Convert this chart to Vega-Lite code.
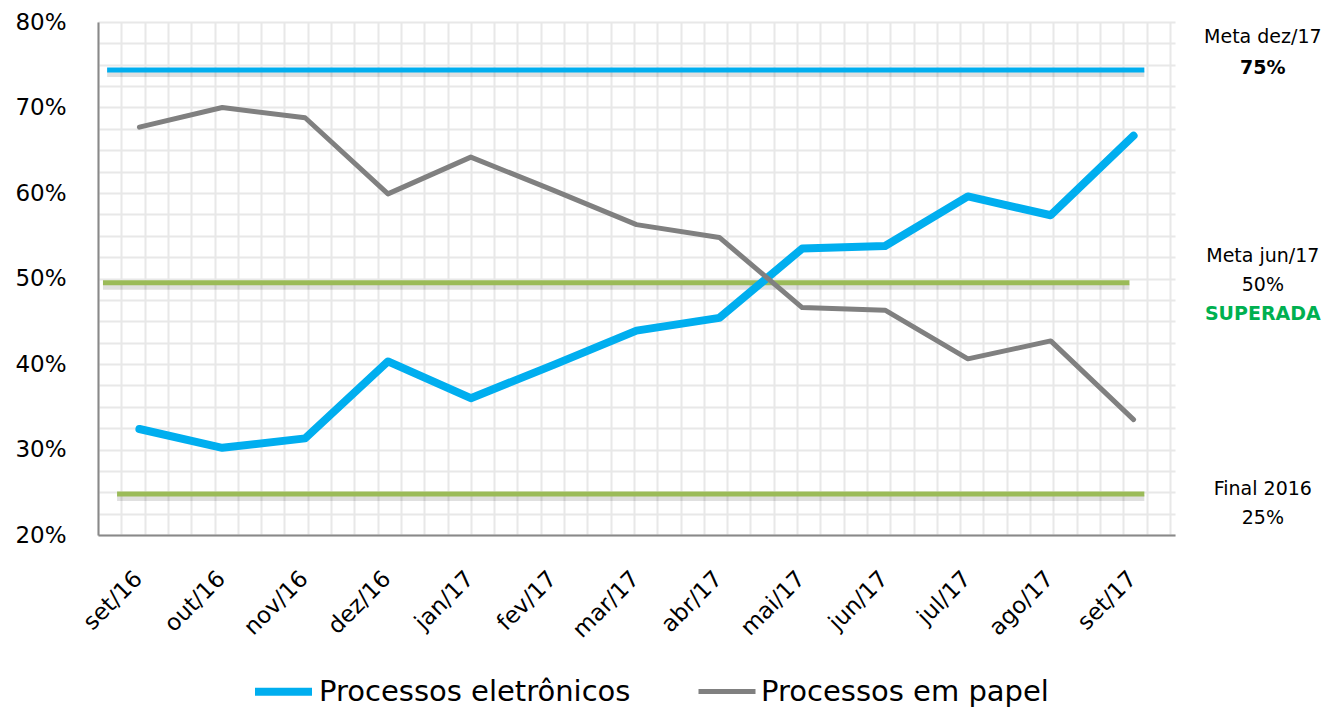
{
  "$schema": "https://vega.github.io/schema/vega-lite/v6.json",
  "width": 1077,
  "height": 513,
  "autosize": {"type": "none"},
  "padding": {"left": 98, "top": 22, "right": 153, "bottom": 173},
  "background": "white",
  "config": {"font": "DejaVu Sans", "view": {"stroke": null}},
  "datasets": {
    "series": [
      {"mes": "set/16", "serie": "Processos eletrônicos", "valor": 32.4},
      {"mes": "out/16", "serie": "Processos eletrônicos", "valor": 30.2},
      {"mes": "nov/16", "serie": "Processos eletrônicos", "valor": 31.3},
      {"mes": "dez/16", "serie": "Processos eletrônicos", "valor": 40.3},
      {"mes": "jan/17", "serie": "Processos eletrônicos", "valor": 36.0},
      {"mes": "fev/17", "serie": "Processos eletrônicos", "valor": 39.9},
      {"mes": "mar/17", "serie": "Processos eletrônicos", "valor": 43.9},
      {"mes": "abr/17", "serie": "Processos eletrônicos", "valor": 45.4},
      {"mes": "mai/17", "serie": "Processos eletrônicos", "valor": 53.5},
      {"mes": "jun/17", "serie": "Processos eletrônicos", "valor": 53.8},
      {"mes": "jul/17", "serie": "Processos eletrônicos", "valor": 59.6},
      {"mes": "ago/17", "serie": "Processos eletrônicos", "valor": 57.4},
      {"mes": "set/17", "serie": "Processos eletrônicos", "valor": 66.7},
      {"mes": "set/16", "serie": "Processos em papel", "valor": 67.7},
      {"mes": "out/16", "serie": "Processos em papel", "valor": 70.0},
      {"mes": "nov/16", "serie": "Processos em papel", "valor": 68.8},
      {"mes": "dez/16", "serie": "Processos em papel", "valor": 59.9},
      {"mes": "jan/17", "serie": "Processos em papel", "valor": 64.2},
      {"mes": "fev/17", "serie": "Processos em papel", "valor": 60.3},
      {"mes": "mar/17", "serie": "Processos em papel", "valor": 56.3},
      {"mes": "abr/17", "serie": "Processos em papel", "valor": 54.8},
      {"mes": "mai/17", "serie": "Processos em papel", "valor": 46.6},
      {"mes": "jun/17", "serie": "Processos em papel", "valor": 46.3},
      {"mes": "jul/17", "serie": "Processos em papel", "valor": 40.6},
      {"mes": "ago/17", "serie": "Processos em papel", "valor": 42.7},
      {"mes": "set/17", "serie": "Processos em papel", "valor": 33.5}
    ],
    "metas": [
      {"meta": "Meta dez/17", "valor": 74.4, "inicio": 0.11, "fim": 12.63},
      {"meta": "Meta jun/17", "valor": 49.5, "inicio": 0.06, "fim": 12.45},
      {"meta": "Final 2016", "valor": 24.8, "inicio": 0.23, "fim": 12.63}
    ],
    "notas": [
      {"texto": "Meta dez/17", "y": 77.5},
      {"texto": "75%", "y": 73.9},
      {"texto": "Meta jun/17", "y": 51.9},
      {"texto": "50%", "y": 48.5},
      {"texto": "SUPERADA", "y": 45.1},
      {"texto": "Final 2016", "y": 24.7},
      {"texto": "25%", "y": 21.3}
    ]
  },
  "layer": [
    {
      "layer": [
        {
          "data": {"name": "metas"},
          "mark": {"type": "rule", "color": "#000000", "opacity": 0.12, "strokeWidth": 6, "yOffset": 4},
          "encoding": {
            "x": {
              "field": "inicio", "type": "quantitative",
              "scale": {"domain": [0, 13], "nice": false, "zero": false},
              "axis": {
                "orient": "top", "title": null, "labels": false, "ticks": false, "domain": false,
                "grid": true, "gridColor": "#e8e8e8", "gridWidth": 2, "tickCount": 100,
                "values": [0, 0.28125, 0.5625, 0.84375, 1.125, 1.40625, 1.6875, 1.96875, 2.25, 2.53125, 2.8125, 3.09375, 3.375, 3.65625, 3.9375, 4.21875, 4.5, 4.78125, 5.0625, 5.34375, 5.625, 5.90625, 6.1875, 6.46875, 6.75, 7.03125, 7.3125, 7.59375, 7.875, 8.15625, 8.4375, 8.71875, 9.0, 9.28125, 9.5625, 9.84375, 10.125, 10.40625, 10.6875, 10.96875, 11.25, 11.53125, 11.8125, 12.09375, 12.375, 12.65625, 12.9375]
              }
            },
            "x2": {"field": "fim"},
            "y": {"field": "valor", "type": "quantitative"}
          }
        },
        {
          "data": {"name": "metas"},
          "transform": [{"filter": "datum.meta === 'Meta dez/17'"}],
          "mark": {"type": "rule", "color": "#00AEEF", "strokeWidth": 5},
          "encoding": {
            "x": {"field": "inicio", "type": "quantitative"},
            "x2": {"field": "fim"},
            "y": {"field": "valor", "type": "quantitative"}
          }
        },
        {
          "data": {"name": "metas"},
          "transform": [{"filter": "datum.meta !== 'Meta dez/17'"}],
          "mark": {"type": "rule", "color": "#9BBB59", "strokeWidth": 5},
          "encoding": {
            "x": {"field": "inicio", "type": "quantitative"},
            "x2": {"field": "fim"},
            "y": {"field": "valor", "type": "quantitative"}
          }
        },
        {
          "data": {"name": "notas"},
          "transform": [{"filter": "datum.texto !== '75%' && datum.texto !== 'SUPERADA'"}],
          "mark": {"type": "text", "font": "DejaVu Sans", "fontSize": 19, "color": "#000000", "align": "center", "baseline": "alphabetic"},
          "encoding": {
            "x": {"datum": 14.06, "type": "quantitative"},
            "y": {"field": "y", "type": "quantitative"},
            "text": {"field": "texto"}
          }
        },
        {
          "data": {"name": "notas"},
          "transform": [{"filter": "datum.texto === '75%'"}],
          "mark": {"type": "text", "font": "DejaVu Sans", "fontSize": 19, "fontWeight": "bold", "color": "#000000", "align": "center", "baseline": "alphabetic"},
          "encoding": {
            "x": {"datum": 14.06, "type": "quantitative"},
            "y": {"field": "y", "type": "quantitative"},
            "text": {"field": "texto"}
          }
        },
        {
          "data": {"name": "notas"},
          "transform": [{"filter": "datum.texto === 'SUPERADA'"}],
          "mark": {"type": "text", "font": "DejaVu Sans", "fontSize": 19, "fontWeight": "bold", "color": "#00B050", "align": "center", "baseline": "alphabetic"},
          "encoding": {
            "x": {"datum": 14.06, "type": "quantitative"},
            "y": {"field": "y", "type": "quantitative"},
            "text": {"field": "texto"}
          }
        }
      ]
    },
    {
      "data": {"name": "series"},
      "mark": {"type": "line", "strokeCap": "round", "strokeJoin": "round"},
      "encoding": {
        "x": {
          "field": "mes", "type": "ordinal", "sort": null,
          "scale": {"type": "point", "padding": 0.5},
          "axis": {
            "orient": "bottom", "title": null, "labelAngle": -45, "labelFontSize": 23, "labelFont": "DejaVu Sans",
            "labelColor": "#000000", "ticks": false, "tickSize": 0, "labelPadding": 32, "labelOffset": -9,
            "domainColor": "#898989", "domainWidth": 2, "grid": false
          }
        },
        "y": {
          "field": "valor", "type": "quantitative",
          "scale": {"domain": [20, 80], "nice": false, "zero": false},
          "axis": {
            "title": null, "tickCount": 100,
            "values": [20, 22.5, 25, 27.5, 30, 32.5, 35, 37.5, 40, 42.5, 45, 47.5, 50, 52.5, 55, 57.5, 60, 62.5, 65, 67.5, 70, 72.5, 75, 77.5, 80],
            "labelExpr": "datum.value % 10 === 0 ? datum.value + '%' : ''",
            "grid": true, "gridColor": "#e8e8e8", "gridWidth": 2,
            "ticks": false, "tickSize": 0, "labelPadding": 32,
            "domainColor": "#898989", "domainWidth": 2,
            "labelFontSize": 23, "labelFont": "DejaVu Sans", "labelColor": "#000000"
          }
        },
        "color": {
          "field": "serie", "type": "nominal",
          "scale": {"domain": ["Processos eletrônicos", "Processos em papel"], "range": ["#00AEEF", "#808080"]},
          "legend": {
            "orient": "none", "legendX": 153, "legendY": 637, "direction": "horizontal", "title": null,
            "symbolType": "stroke", "symbolSize": 3249, "symbolStrokeWidth": 7,
            "labelFontSize": 29, "labelFont": "DejaVu Sans", "labelColor": "#000000", "labelOffset": 3,
            "columnPadding": 57, "labelLimit": 500
          }
        },
        "strokeWidth": {
          "field": "serie", "type": "ordinal",
          "scale": {"domain": ["Processos eletrônicos", "Processos em papel"], "range": [8, 5]},
          "legend": null
        }
      }
    }
  ],
  "resolve": {"scale": {"x": "independent"}}
}
